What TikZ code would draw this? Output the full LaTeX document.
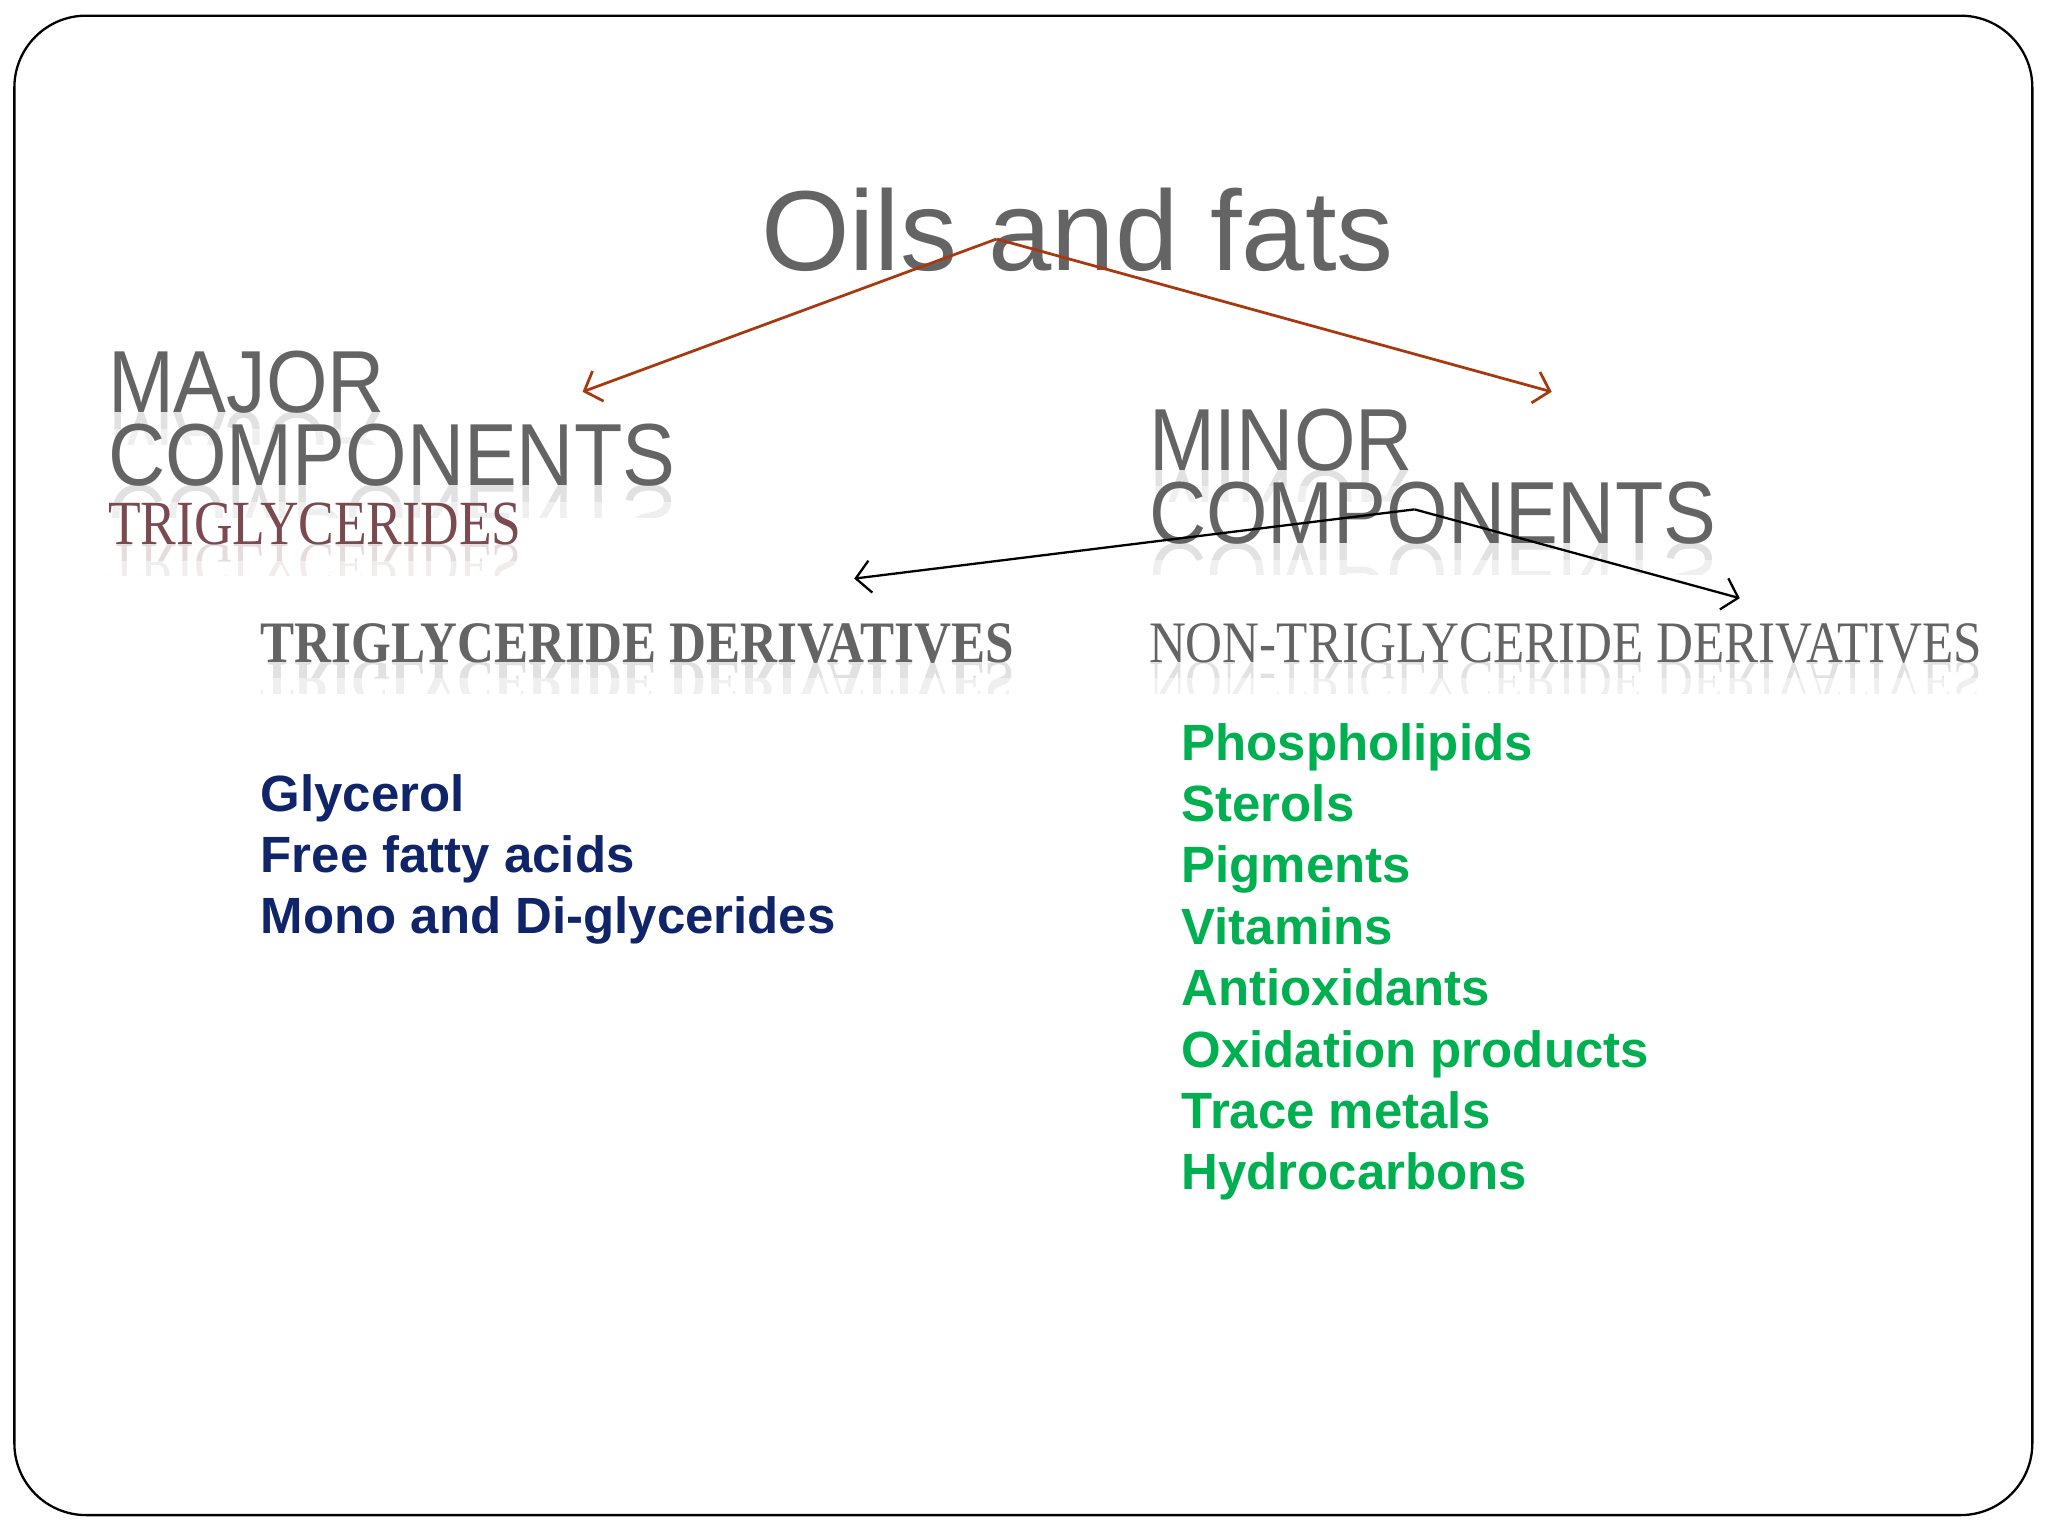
\documentclass[tikz,border=0pt]{standalone}
\usepackage{fontspec}
\setmainfont{Liberation Serif}
\newfontfamily\sansfont{Liberation Sans}
\newfontfamily\narrowsans[FakeStretch=0.898]{Liberation Sans}
\newfontfamily\narrowserif[FakeStretch=0.85]{Liberation Serif}
\newfontfamily\derivserif[FakeStretch=0.87]{Liberation Serif}
\usepackage[HTML]{xcolor}
\usepackage{tikz}
\usetikzlibrary{positioning, arrows, arrows.meta}

\definecolor{textgray}{HTML}{646464}
\definecolor{rust}{HTML}{A8380E}
\definecolor{mauve}{HTML}{7B4A4E}
\definecolor{navy}{HTML}{10246A}
\definecolor{leaf}{HTML}{00B050}

\tikzset{
  title/.style={font=\sansfont\fontsize{24.8}{24.8}\selectfont, text=textgray, anchor=base west, inner sep=0},
  head/.style={font=\narrowsans\fontsize{19.2}{19.2}\selectfont, text=textgray, anchor=base west, inner sep=0},
  sub/.style={font=\narrowserif\fontsize{13.7}{13.7}\selectfont, text=mauve, anchor=base west, inner sep=0},
  deriv/.style={font=\derivserif\fontsize{12.8}{12.8}\selectfont, text=textgray, anchor=base west, inner sep=0},
  item/.style={font=\sansfont\bfseries\fontsize{11.1}{11.1}\selectfont, anchor=base west, inner sep=0},
  mirror/.style={anchor=base west, inner sep=0, yscale=-1, transform shape, opacity=0.1},
  split/.style={-{Straight Barb[length=3.2pt,width=7pt]}, line width=0.6pt}
}

\begin{document}
\begin{tikzpicture}
    \useasboundingbox (0,0) rectangle (15.68,-11.76);

    % Slide frame
    \draw[line width=0.5pt, rounded corners=0.55cm] (0.11,-0.12) rectangle (15.56,-11.60);

    % Reflections under the headings (two bands, fading downwards)
    \foreach \x/\y/\s/\t [count=\i] in {
        0.82/3.16/head/MAJOR, 0.82/3.72/head/COMPONENTS,
        0.82/4.17/sub/TRIGLYCERIDES,
        8.79/3.60/head/MINOR, 8.79/4.16/head/COMPONENTS,
        1.99/5.07/deriv/{\bfseries TRIGLYCERIDE DERIVATIVES},
        8.79/5.07/deriv/NON-TRIGLYCERIDE DERIVATIVES} {
      \begin{scope}
        \clip (\x,-\y) rectangle ++(7,-0.12);
        \node[\s, mirror] (refla\i) at (\x,-\y) {\t};
      \end{scope}
      \begin{scope}
        \clip (\x,-\y) rectangle ++(7,-0.24);
        \node[\s, mirror] (reflb\i) at (\x,-\y) {\t};
      \end{scope}
    }

    % Define nodes
    \node[title] (oils) at (5.82,-2.07) {Oils and fats};
    \node[head] (major) at (0.82,-3.16) {MAJOR};
    \node[head] (majorb) at (0.82,-3.72) {COMPONENTS};
    \node[sub] (trig) at (0.82,-4.17) {TRIGLYCERIDES};
    \node[head] (minor) at (8.79,-3.60) {MINOR};
    \node[head] (minorb) at (8.79,-4.16) {COMPONENTS};
    \node[deriv, font=\derivserif\bfseries\fontsize{12.8}{12.8}\selectfont] (tgd) at (1.99,-5.07) {TRIGLYCERIDE DERIVATIVES};
    \node[deriv] (ntgd) at (8.79,-5.07) {NON-TRIGLYCERIDE DERIVATIVES};

    % Lists
    \foreach \t [count=\i] in {Glycerol, Free fatty acids, Mono and Di-glycerides}
      \node[item, text=navy] (tg\i) at (1.99,{-6.21-0.47*(\i-1)}) {\t};
    \foreach \t [count=\i] in {Phospholipids, Sterols, Pigments, Vitamins, Antioxidants,
        Oxidation products, Trace metals, Hydrocarbons}
      \node[item, text=leaf] (ntg\i) at (9.04,{-5.82-0.47*(\i-1)}) {\t};

    % Draw arrows
    \coordinate (top) at (7.63,-1.83);
    \coordinate (majend) at (4.46,-3.00);
    \coordinate (minend) at (11.88,-3.00);
    \draw[split, rust] (top) -- (majend);
    \draw[split, rust] (top) -- (minend);

    \coordinate (fork) at (10.83,-3.90);
    \coordinate (tgdend) at (6.54,-4.43);
    \coordinate (ntgdend) at (13.32,-4.58);
    \draw[split, line width=0.5pt] (fork) -- (tgdend);
    \draw[split, line width=0.5pt] (fork) -- (ntgdend);
\end{tikzpicture}
\end{document}
